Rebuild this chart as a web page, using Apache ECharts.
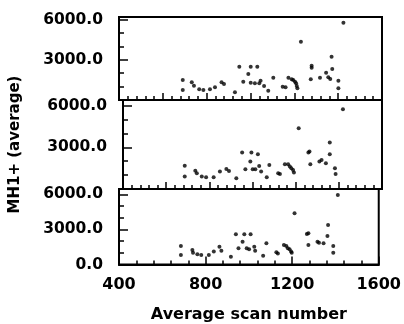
<!DOCTYPE html>
<html>
<head>
<meta charset="utf-8">
<script src="https://cdn.jsdelivr.net/npm/echarts@6/dist/echarts.min.js"></script>
<style>
  html, body {margin: 0; padding: 0; background: #fff;}
  #chart {width: 404px; height: 324px;}
</style>
</head>
<body>
<div id="chart"></div>
<script>
// three stacked panels, same scan range
const scanTop = [691, 691, 732, 742, 766, 785, 815, 838, 868, 879, 929, 949, 967, 990, 1001, 1001, 1020, 1031, 1040, 1046,
    1062, 1081, 1104, 1147, 1160, 1173, 1188, 1195, 1203, 1208, 1211, 1214, 1230, 1275, 1279, 1279, 1317, 1345, 1355, 1364,
    1370, 1373, 1401, 1401, 1424];
const mhTop = [1490, 750, 1320, 1070, 800, 750, 800, 950, 1320, 1200, 580, 2490, 1370, 1940, 2490, 1290, 1250, 2490, 1250, 1440,
    1050, 700, 1670, 990, 950, 1670, 1550, 1490, 1370, 1250, 1050, 870, 4360, 1550, 2560, 2410, 1670, 2040, 1700, 1570,
    3240, 2320, 1440, 870, 5770];

const scanMid = [686, 686, 735, 742, 765, 785, 820, 849, 879, 891, 925, 952, 967, 990, 995, 1001, 1013, 1025, 1031, 1040,
    1066, 1078, 1119, 1127, 1150, 1165, 1173, 1180, 1188, 1192, 1214, 1259, 1264, 1268, 1310, 1320, 1340, 1358, 1358, 1382,
    1385, 1419];
const mhMid = [1680, 890, 1320, 1130, 890, 840, 840, 1250, 1440, 1300, 770, 2620, 1420, 1970, 2620, 1420, 1420, 2500, 1660, 1250,
    840, 1730, 1130, 1080, 1780, 1780, 1610, 1490, 1370, 1180, 4370, 2620, 2690, 1780, 1970, 2090, 1850, 3340, 2500, 1490,
    1080, 5740];

const scanLow = [686, 686, 739, 742, 762, 780, 815, 838, 864, 873, 917, 940, 952, 971, 979, 990, 1001, 1008, 1025, 1029,
    1066, 1081, 1127, 1134, 1162, 1173, 1180, 1188, 1195, 1198, 1211, 1268, 1275, 1275, 1317, 1324, 1345, 1366, 1363, 1390,
    1390, 1411];
const mhLow = [1580, 810, 1240, 1010, 870, 810, 810, 1100, 1520, 1180, 670, 2580, 1380, 1950, 2580, 1380, 1300, 2580, 1520, 1180,
    750, 1810, 1040, 950, 1670, 1580, 1380, 1300, 1100, 1010, 4370, 2600, 2660, 1670, 1950, 1860, 1810, 3370, 2430, 1580,
    1010, 5940];

const scanLabels = [400, 800, 1200, 1600];

const pairs = (xs, ys) => xs.map((x, i) => [x, ys[i]]);
const font = 'DejaVu Sans';

const myChart = echarts.init(document.getElementById('chart'), null, {renderer: 'canvas'});

const grids = [
    {left: 119, right: 22, top: 17, height: 83},
    {left: 119, right: 22, top: 100, height: 89},
    {left: 119, right: 22, top: 189, height: 75.5}
].map(g => ({...g, show: true, borderColor: '#000', borderWidth: 2}));

function xAxisFor(i) {
    const last = i === 2;
    return {
        type: 'value', gridIndex: i, min: 400, max: 1600,
        interval: last ? 400 : 200,
        axisLine: {show: true, lineStyle: {color: '#000', width: 2}},
        axisTick: {show: true, inside: true, length: last ? 8 : 7, lineStyle: {color: '#000', width: 1.5}},
        minorTick: {show: true, splitNumber: 5, length: 4, lineStyle: {color: '#000', width: 1.5}},
        splitLine: {show: false},
        axisLabel: {
            show: last, margin: 12, color: '#000', fontFamily: font, fontSize: 16, fontWeight: 'bold',
            formatter: v => scanLabels.includes(v) ? String(v) : ''
        },
        name: last ? 'Average scan number' : '',
        nameLocation: 'middle', nameGap: 42,
        nameTextStyle: {color: '#000', fontFamily: font, fontSize: 16, fontWeight: 'bold'}
    };
}

function yAxisFor(i, max) {
    return {
        type: 'value', gridIndex: i, min: 0, max: max, interval: 3000,
        axisLine: {show: true, lineStyle: {color: '#000', width: 2}},
        axisTick: {show: true, inside: true, length: 9, lineStyle: {color: '#000', width: 1.5}},
        minorTick: {show: true, splitNumber: 3, length: 5, lineStyle: {color: '#000', width: 1.5}},
        splitLine: {show: false},
        axisLabel: {
            margin: 16, color: '#000', fontFamily: font, fontSize: 15.5, fontWeight: 'bold',
            formatter: v => (v % 3000 === 0 && v <= 6000 && (v > 0 || i === 2)) ? v.toFixed(1) : ''
        },
        name: i === 1 ? 'MH1+ (average)' : '',
        nameLocation: 'middle', nameGap: 100, nameRotate: 90,
        nameTextStyle: {color: '#000', fontFamily: font, fontSize: 15, fontWeight: 'bold'}
    };
}

const dot = (i, data) => ({
    type: 'scatter', xAxisIndex: i, yAxisIndex: i, data: data,
    symbol: 'circle', symbolSize: 4,
    itemStyle: {color: '#000'}
});

myChart.setOption({
    animation: false,
    backgroundColor: '#fff',
    grid: grids,
    xAxis: [0, 1, 2].map(xAxisFor),
    yAxis: [yAxisFor(0, 6200), yAxisFor(1, 6400), yAxisFor(2, 6450)],
    series: [
        dot(0, pairs(scanTop, mhTop)),
        dot(1, pairs(scanMid, mhMid)),
        dot(2, pairs(scanLow, mhLow))
    ]
});
</script>
</body>
</html>
